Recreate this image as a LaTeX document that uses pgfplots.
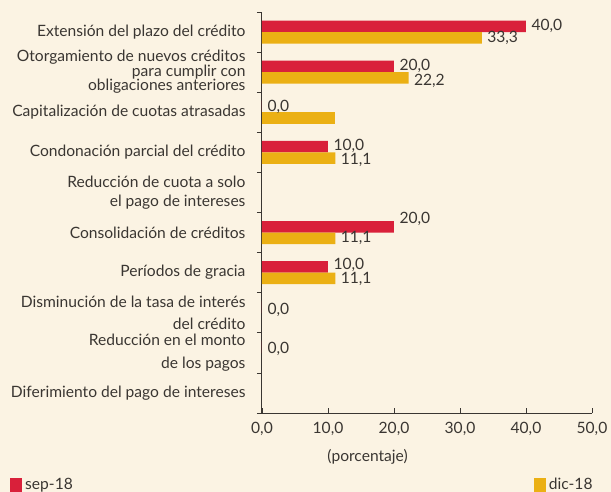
\documentclass[border=0pt]{standalone}
\usepackage{pgfplots}
\pgfplotsset{compat=1.18}
\usepackage{pgfplotstable}
\usepackage{fontspec}
\setmainfont{Lato}
\definecolor{bgc}{HTML}{FBF3E3}
\definecolor{redc}{HTML}{D9203A}
\definecolor{goldc}{HTML}{EBB014}
\definecolor{txt}{HTML}{3A3632}
\pgfplotstableread{
y x dy
0 40 0
1 20 0
2 0 0
3 10 1
5 20 8
6 10 2
7 0 -3
8 0 -2
}\sepdata
\pgfplotstableread{
y x dy
0 33.3 0
1 22.2 -3
3 11.1 -2
5 11.1 0
6 11.1 -1
}\dicdata
\pgfplotstableread{
y x
2 11.1
}\dicnolabel
\begin{document}
\begin{tikzpicture}
\fill[bgc] (0pt,0pt) rectangle (611pt,-492pt);
\useasboundingbox (0pt,0pt) rectangle (611pt,-492pt);
\begin{axis}[
  at={(262pt,-413pt)}, anchor=south west,
  scale only axis, width=330pt, height=401pt,
  font=\fontsize{15.6}{16}\selectfont\color{txt},
  xbar, bar width=11.5pt,
  y dir=reverse,
  xmin=0, xmax=50, ymin=-0.5, ymax=9.5,
  axis lines=left,
  axis line style={-, draw=txt, line width=1pt},
  xtick={0,10,...,50},
  ytick={0,...,9},
  minor ytick={-0.5,0.5,...,9.5},
  tick align=inside,
  major tick length=5pt,
  minor tick length=5pt,
  major y tick style={draw=none},
  minor y tick style={draw=txt, line width=0.8pt, xshift=-5pt},
  major x tick style={draw=txt, line width=0.8pt},
  xticklabel style={yshift=-6pt, text=txt},
  /pgf/number format/.cd, fixed, fixed zerofill, precision=1, use comma, assume math mode=true,
  /pgfplots/.cd,
  yticklabels={
    {Extensión del plazo del crédito},
    {Otorgamiento de nuevos créditos\\[-1.5pt]para cumplir con\\[-1.5pt]obligaciones anteriores},
    {Capitalización de cuotas atrasadas},
    {Condonación parcial del crédito},
    {Reducción de cuota a solo\\[3pt]el pago de intereses},
    {Consolidación de créditos},
    {Períodos de gracia},
    {Disminución de la tasa de interés\\[6pt]del crédito},
    {Reducción en el monto\\[7pt]de los pagos},
    {Diferimiento del pago de intereses}},
  yticklabel style={align=right, xshift=-13pt, text=txt},
  xlabel={(porcentaje)},
  xlabel style={at={(axis description cs:0.32,0)}, anchor=north, yshift=-33pt, text=txt},
  legend style={at={(axis description cs:-0.7636,-0.157)}, anchor=north west, draw=none, fill=none,
    legend columns=2, /tikz/every even column/.append style={column sep=458pt},
    font=\fontsize{15.6}{16}\selectfont, text=txt, inner sep=0pt,
    nodes={inner xsep=3pt}},
  legend image code/.code={\fill[#1, draw=none] (0pt,-7pt) rectangle (12pt,7pt);},
  nodes near coords style={anchor=west, xshift=2pt, text=txt, font=\fontsize{15.6}{16}\selectfont},
]
\addplot[fill=redc, draw=none, bar shift=5.75pt,
  nodes near coords={\pgfmathprintnumber[fixed,fixed zerofill,precision=1,use comma,assume math mode=true]{\pgfplotspointmeta}},
  visualization depends on={\thisrow{dy} \as \dy},
  every node near coord/.append style={yshift=\dy pt}]
  table[x=x, y=y] {\sepdata};
\addlegendentry{sep-18}
\addplot[fill=goldc, draw=none, bar shift=-5.75pt,
  nodes near coords={\pgfmathprintnumber[fixed,fixed zerofill,precision=1,use comma,assume math mode=true]{\pgfplotspointmeta}},
  visualization depends on={\thisrow{dy} \as \dy},
  every node near coord/.append style={yshift=\dy pt}]
  table[x=x, y=y] {\dicdata};
\addlegendentry{dic-18}
\addplot[fill=goldc, draw=none, bar shift=-5.75pt, forget plot]
  table[x=x, y=y] {\dicnolabel};
\end{axis}
\end{tikzpicture}
\end{document}
